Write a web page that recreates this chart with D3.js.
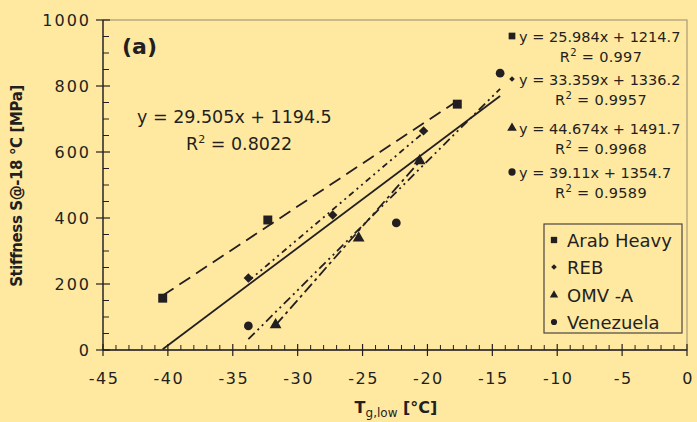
<!DOCTYPE html>
<html><head><meta charset="utf-8">
<script src="https://cdn.jsdelivr.net/npm/d3@7"></script>
<style>html,body{margin:0;padding:0;background:#FFE9A1;} svg{display:block;font-family:"DejaVu Sans",sans-serif;}</style>
</head><body>
<svg id="c" width="697" height="422"></svg>
<script>
// ---- data ----
const seriesNames = ["Arab Heavy", "REB", "OMV -A", "Venezuela"];
const seriesSymbols = ["square", "diamond", "triangle", "circle"];
const arabX = [-40.4, -32.3, -17.7], arabY = [157, 394, 745];
const rebX = [-33.8, -27.3, -20.3], rebY = [218, 409, 664];
const omvX = [-31.7, -25.3, -20.6], omvY = [76, 339, 573];
const venX = [-33.8, -22.4, -14.4], venY = [73, 385, 839];
const trendSlopes = [25.984, 33.359, 44.674, 39.11];
const trendIntercepts = [1214.7, 1336.2, 1491.7, 1354.7];
const trendR2 = ["0.997", "0.9957", "0.9968", "0.9589"];
const overallSlope = 29.505, overallIntercept = 1194.5, overallR2 = "0.8022";
const xTicks = [-45, -40, -35, -30, -25, -20, -15, -10, -5, 0];
const yTicks = [0, 200, 400, 600, 800, 1000];

const ink = "#231f20";
const svg = d3.select("#c");
const x = d3.scaleLinear().domain([-45, 0]).range([103, 687]);
const y = d3.scaleLinear().domain([0, 1000]).range([350, 20]);

// plot border (top/right)
svg.append("rect").attr("x", x(-45)).attr("y", y(1000)).attr("width", x(0) - x(-45)).attr("height", y(0) - y(1000))
  .attr("fill", "none").attr("stroke", "#a89a78").attr("stroke-width", 1.2);

// axes lines
svg.append("line").attr("x1", x(-45)).attr("x2", x(0)).attr("y1", y(0)).attr("y2", y(0)).attr("stroke", ink).attr("stroke-width", 1.3);
svg.append("line").attr("x1", x(-45)).attr("x2", x(-45)).attr("y1", y(0)).attr("y2", y(1000)).attr("stroke", ink).attr("stroke-width", 1.3);

// minor ticks
const xMinor = d3.range(-45, 0.01, 1).filter(v => !xTicks.includes(v));
svg.append("g").selectAll("line").data(xMinor).join("line")
  .attr("x1", d => x(d)).attr("x2", d => x(d)).attr("y1", y(0)).attr("y2", y(0) - 5)
  .attr("stroke", ink).attr("stroke-width", 1);
const yMinor = d3.range(0, 1000.1, 50).filter(v => !yTicks.includes(v));
svg.append("g").selectAll("line").data(yMinor).join("line")
  .attr("x1", x(-45)).attr("x2", x(-45) + 6).attr("y1", d => y(d)).attr("y2", d => y(d))
  .attr("stroke", ink).attr("stroke-width", 1);
// major ticks
svg.append("g").selectAll("line").data(xTicks).join("line")
  .attr("x1", d => x(d)).attr("x2", d => x(d)).attr("y1", y(0) - 6).attr("y2", y(0) + 6)
  .attr("stroke", ink).attr("stroke-width", 1.2);
svg.append("g").selectAll("line").data(yTicks).join("line")
  .attr("x1", x(-45) - 7).attr("x2", x(-45) + 7).attr("y1", d => y(d)).attr("y2", d => y(d))
  .attr("stroke", ink).attr("stroke-width", 1.2);

// tick labels
svg.append("g").selectAll("text").data(xTicks).join("text")
  .attr("x", d => x(d) + 1).attr("y", 384).attr("text-anchor", "middle")
  .attr("font-size", 16).attr("letter-spacing", 1.5).attr("fill", ink).text(d => d);
svg.append("g").selectAll("text").data(yTicks).join("text")
  .attr("x", 91).attr("y", d => y(d) + 6).attr("text-anchor", "end")
  .attr("font-size", 16).attr("letter-spacing", 2).attr("fill", ink).text(d => d);

// axis titles
svg.append("text").attr("transform", "translate(22,186) rotate(-90)").attr("text-anchor", "middle")
  .attr("font-size", 15).attr("letter-spacing", -0.4).attr("font-weight", "bold").attr("fill", ink).text("Stiffness S@-18 °C [MPa]");
const xt = svg.append("text").attr("x", 396).attr("y", 413).attr("text-anchor", "middle")
  .attr("font-size", 16).attr("font-weight", "bold").attr("fill", ink);
xt.append("tspan").text("T");
xt.append("tspan").attr("dy", 4).attr("font-size", 12).attr("font-weight", "normal").text("g,low");
xt.append("tspan").attr("dy", -4).text(" [°C]");

// panel label
svg.append("text").attr("x", 122).attr("y", 54).attr("font-size", 22).attr("font-weight", "bold").attr("fill", ink).text("(a)");

// trend lines
const series = [
  {xs: arabX, ys: arabY, dash: "13,7"},
  {xs: rebX, ys: rebY, dash: "6,4,2,4,2,4"},
  {xs: omvX, ys: omvY, dash: "11,4,3,4"},
  {xs: venX, ys: venY, dash: "9,4,2,4,2,4"}
];
series.forEach((s, i) => {
  const x0 = d3.min(s.xs), x1 = d3.max(s.xs);
  svg.append("line").attr("x1", x(x0)).attr("x2", x(x1))
    .attr("y1", y(trendSlopes[i] * x0 + trendIntercepts[i])).attr("y2", y(trendSlopes[i] * x1 + trendIntercepts[i]))
    .attr("stroke", ink).attr("stroke-width", 1.8).attr("stroke-dasharray", s.dash);
});
// overall trend
const allX = [].concat(arabX, rebX, omvX, venX);
const ox0 = Math.max(d3.min(allX), -overallIntercept / overallSlope), ox1 = d3.max(allX);
svg.append("line").attr("x1", x(ox0)).attr("x2", x(ox1))
  .attr("y1", y(overallSlope * ox0 + overallIntercept)).attr("y2", y(overallSlope * ox1 + overallIntercept))
  .attr("stroke", ink).attr("stroke-width", 1.8);

// markers (diamond = rotated square)
const symType = {square: d3.symbolSquare, diamond: d3.symbolSquare, triangle: d3.symbolTriangle, circle: d3.symbolCircle};
const symRot = {square: 0, diamond: 45, triangle: 0, circle: 0};
const symSize = {square: 80, diamond: 45, triangle: 60, circle: 60};
series.forEach((s, i) => {
  const t = seriesSymbols[i];
  svg.append("g").selectAll("path").data(s.xs.map((v, k) => [v, s.ys[k]])).join("path")
    .attr("transform", d => `translate(${x(d[0])},${y(d[1])}) rotate(${symRot[t]})`)
    .attr("d", d3.symbol().type(symType[t]).size(symSize[t])).attr("fill", ink);
});

// equations (right)
const eqBase = [42, 85, 134, 178];
const eqSym = {square: 45, diamond: 16, triangle: 40, circle: 42};
trendSlopes.forEach((m, i) => {
  const t = seriesSymbols[i];
  svg.append("path").attr("transform", `translate(512,${eqBase[i] - 6}) rotate(${symRot[t]})`)
    .attr("d", d3.symbol().type(symType[t]).size(eqSym[t])).attr("fill", ink);
  svg.append("text").attr("x", 519).attr("y", eqBase[i]).attr("font-size", 14.5).attr("fill", ink)
    .text(`y = ${m}x + ${trendIntercepts[i]}`);
  const r = svg.append("text").attr("x", 601).attr("y", eqBase[i] + 20).attr("text-anchor", "middle")
    .attr("font-size", 14.5).attr("letter-spacing", 0.3).attr("fill", ink);
  r.append("tspan").text("R");
  r.append("tspan").attr("dy", -6).attr("font-size", 10).text("2");
  r.append("tspan").attr("dy", 6).text(" = " + trendR2[i]);
});

// overall equation
svg.append("text").attr("x", 137).attr("y", 123).attr("font-size", 17.5).attr("fill", ink)
  .text(`y = ${overallSlope}x + ${overallIntercept}`);
const ro = svg.append("text").attr("x", 186).attr("y", 150).attr("font-size", 17.5).attr("fill", ink);
ro.append("tspan").text("R");
ro.append("tspan").attr("dy", -7).attr("font-size", 11).text("2");
ro.append("tspan").attr("dy", 7).text(" = " + overallR2);

// legend
const lg = svg.append("g");
lg.append("rect").attr("x", 544).attr("y", 224).attr("width", 138).attr("height", 109)
  .attr("fill", "#FFE9A1").attr("stroke", "#4a4540").attr("stroke-width", 1.2);
const legY = [240, 267, 295, 322];
const legSym = {square: 40, diamond: 16, triangle: 30, circle: 30};
seriesNames.forEach((n, i) => {
  const t = seriesSymbols[i];
  lg.append("path").attr("transform", `translate(554,${legY[i]}) rotate(${symRot[t]})`)
    .attr("d", d3.symbol().type(symType[t]).size(legSym[t])).attr("fill", ink);
  lg.append("text").attr("x", 567).attr("y", legY[i] + 7).attr("font-size", 18).attr("fill", ink).text(n);
});
</script>
</body></html>
